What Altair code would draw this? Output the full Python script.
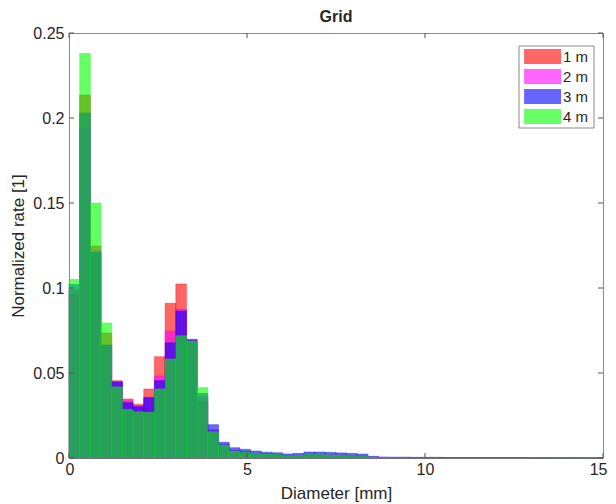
import altair as alt
import pandas as pd

chart_title = ["Grid"]
series_names = ["1 m", "2 m", "3 m", "4 m"]
series_colors = ["#ff0000", "#ff00ff", "#0000ff", "#00ff00"]
bin_width = 0.3
n_bins = 50

red = [0.096, 0.2135, 0.1247, 0.0735, 0.0455, 0.0347, 0.0316, 0.0406, 0.0596, 0.091,
       0.1024, 0.0690, 0.033, 0.0160, 0.0078, 0.0043, 0.0036, 0.0027, 0.0024, 0.0020,
       0.0014, 0.0016, 0.0020, 0.0020, 0.0018, 0.0016, 0.0014, 0.0010, 0.0005, 0.0003,
       0.0002, 0.0002, 0.0002, 0.0001, 0.0001, 0.0001, 0.0001, 0.0001, 0.0001, 0.0001,
       0.0001, 0.0001, 0.0001, 0.0001, 0.0, 0.0, 0.0, 0.0, 0.0, 0.0]
magenta = [0.099, 0.194, 0.122, 0.066, 0.045, 0.0337, 0.0308, 0.0358, 0.0482, 0.0747,
           0.0875, 0.0692, 0.036, 0.0165, 0.0080, 0.0045, 0.0037, 0.0027, 0.0024, 0.0020,
           0.0014, 0.0016, 0.0020, 0.0020, 0.0018, 0.0016, 0.0014, 0.0010, 0.0005, 0.0003,
           0.0002, 0.0002, 0.0002, 0.0001, 0.0001, 0.0001, 0.0001, 0.0001, 0.0001, 0.0001,
           0.0001, 0.0001, 0.0001, 0.0001, 0.0001, 0.0, 0.0, 0.0, 0.0, 0.0]
blue = [0.102, 0.203, 0.121, 0.0665, 0.0447, 0.0325, 0.0302, 0.0355, 0.0455, 0.0678,
        0.0865, 0.0698, 0.038, 0.0196, 0.0092, 0.0061, 0.0051, 0.0041, 0.0034, 0.0031,
        0.0024, 0.0027, 0.0035, 0.0035, 0.0033, 0.0030, 0.0027, 0.0023, 0.0010, 0.0006,
        0.0005, 0.0005, 0.0004, 0.0004, 0.0004, 0.0003, 0.0003, 0.0003, 0.0003, 0.0003,
        0.0003, 0.0003, 0.0003, 0.0002, 0.0002, 0.0002, 0.0002, 0.0002, 0.0001, 0.0001]
green = [0.105, 0.238, 0.150, 0.0794, 0.0418, 0.0286, 0.0272, 0.0269, 0.0406, 0.0582,
         0.0719, 0.0688, 0.0414, 0.0155, 0.0076, 0.0041, 0.0034, 0.0027, 0.0024, 0.0020,
         0.0014, 0.0016, 0.0020, 0.0020, 0.0018, 0.0016, 0.0014, 0.0010, 0.0005, 0.0003,
         0.0002, 0.0002, 0.0002, 0.0001, 0.0001, 0.0001, 0.0001, 0.0001, 0.0001, 0.0001,
         0.0001, 0.0001, 0.0001, 0.0001, 0.0, 0.0, 0.0, 0.0, 0.0, 0.0]

y_ticks = [0, 0.05, 0.1, 0.15, 0.2, 0.25]
x_ticks = [0, 5, 10, 15]

rows = []
for s, (name, vals) in enumerate(zip(series_names, [red, magenta, blue, green])):
    for i, v in enumerate(vals):
        rows.append({"series": name, "s": s, "x0": i * bin_width,
                     "x1": (i + 1) * bin_width, "v": v})
df = pd.DataFrame(rows)

W, H = 534, 425
FONT = "Liberation Sans"
TXT = "#262626"

xscale = alt.Scale(domain=[0, 15], nice=False, zero=False)
yscale = alt.Scale(domain=[0, 0.25], nice=False)

bars = alt.Chart(df).mark_bar(fillOpacity=0.6, strokeOpacity=0.6, strokeWidth=0.6).encode(
    x=alt.X("x0:Q", scale=xscale,
            axis=alt.Axis(values=x_ticks, title="Diameter [mm]", ticks=False, domain=False,
                          grid=False, labelPadding=3, labelFlush=True, labelFlushOffset=4,
                          titleX=W / 2, titleY=35, titleBaseline="middle")),
    x2="x1:Q",
    y=alt.Y("v:Q", scale=yscale, stack=None,
            axis=alt.Axis(values=y_ticks, format="~g", title="Normalized rate [1]",
                          ticks=False, domain=False, grid=False, labelPadding=5,
                          labelFlush=False,
                          titleX=-51, titleY=H / 2, titleBaseline="middle",
                          titleAlign="center", titleAngle=-90)),
    y2=alt.datum(0),
    color=alt.Color("series:N", scale=alt.Scale(domain=series_names, range=series_colors),
                    legend=alt.Legend(title=None, orient="none", legendX=450, legendY=11,
                                      symbolType="M-1,-1H4V1H-1Z", symbolSize=219,
                                      symbolOpacity=0.6, symbolStrokeWidth=0,
                                      labelOffset=24, rowPadding=4, padding=5,
                                      columnPadding=0,
                                      strokeColor="transparent", fillColor="transparent",
                                      labelFont=FONT, labelFontSize=15, labelColor=TXT)),
    stroke=alt.Stroke("series:N", scale=alt.Scale(domain=series_names, range=series_colors),
                      legend=None),
    order=alt.Order("s:Q"),
)

# legend frame
frame = alt.Chart(pd.DataFrame({"k": [0]})).mark_rect(
    fill="white", stroke="#8a8a8a", strokeWidth=1).encode(
    x=alt.value(450), x2=alt.value(525), y=alt.value(13), y2=alt.value(95))

# title as text mark
title = alt.Chart(pd.DataFrame({"t": chart_title})).mark_text(
    font=FONT, fontSize=16, fontWeight="bold", color=TXT, align="center",
    baseline="middle").encode(text="t:N", x=alt.value(W / 2), y=alt.value(-16))

ydf = pd.DataFrame({"t": y_ticks})
xdf = pd.DataFrame({"t": x_ticks})

ytl = alt.Chart(ydf).mark_rule(color="#555", strokeWidth=1).encode(
    y=alt.Y("t:Q", scale=yscale), x=alt.value(0), x2=alt.value(5))
ytr = alt.Chart(ydf).mark_rule(color="#555", strokeWidth=1).encode(
    y=alt.Y("t:Q", scale=yscale), x=alt.value(W - 5), x2=alt.value(W))
xtb = alt.Chart(xdf).mark_rule(color="#555", strokeWidth=1).encode(
    x=alt.X("t:Q", scale=xscale), y=alt.value(H), y2=alt.value(H - 5))
xtt = alt.Chart(xdf).mark_rule(color="#555", strokeWidth=1).encode(
    x=alt.X("t:Q", scale=xscale), y=alt.value(0), y2=alt.value(5))

chart = alt.layer(bars, frame, title, ytl, ytr, xtb, xtt).properties(
    width=W, height=H,
    background="white",
    autosize=alt.AutoSizeParams(type="none"),
    padding={"left": 61, "top": 25, "right": 5, "bottom": 60},
).configure_view(stroke="#8a8a8a", strokeWidth=1).configure_axis(
    labelFont=FONT, labelFontSize=16, labelColor=TXT,
    titleFont=FONT, titleFontSize=17, titleColor=TXT, titleFontWeight="normal",
)

chart.save("out.html", embed_options={"renderer": "svg", "actions": False})
